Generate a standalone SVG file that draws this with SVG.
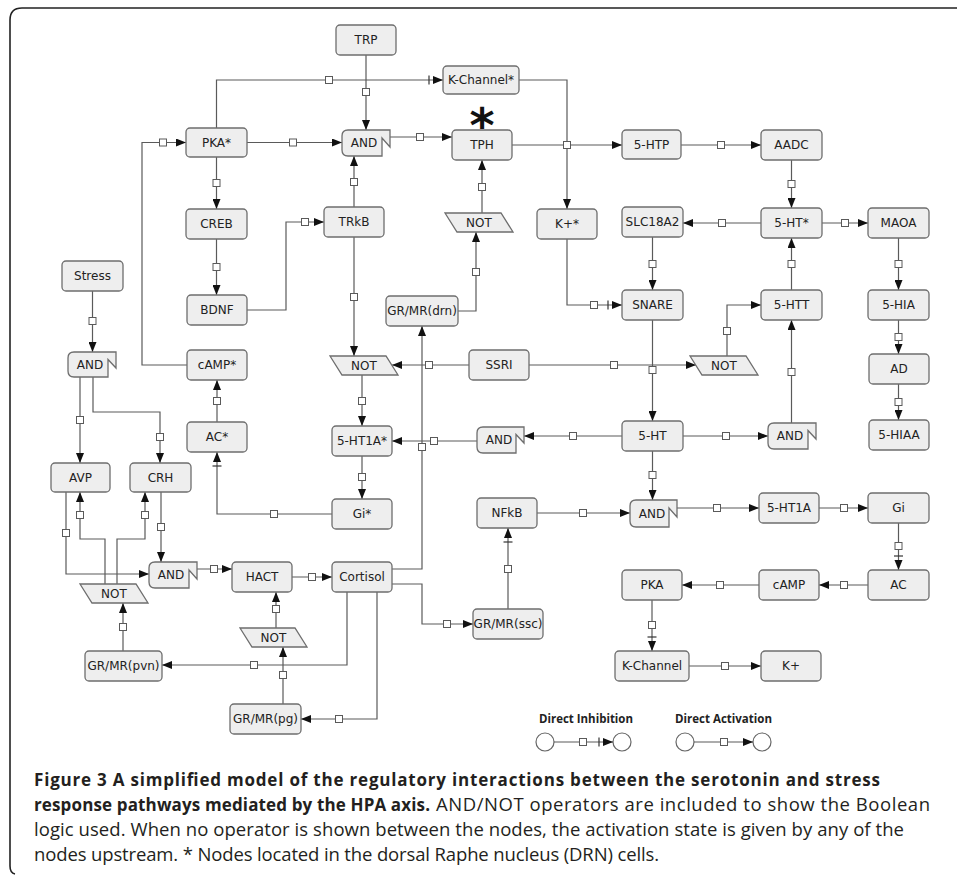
<svg xmlns="http://www.w3.org/2000/svg" width="957" height="875" viewBox="0 0 957 875">
<style>
.n rect,.n path{fill:#eeeeee;stroke:#6e6e6e;stroke-width:1.3}
.n text{font-family:"DejaVu Sans",sans-serif;font-size:12px;fill:#222;text-anchor:middle}
.c path{fill:none;stroke:#5a5a5a;stroke-width:1.2}
.c path.a{marker-end:url(#ah)}
.c path.i{marker-end:url(#ih)}
.sq rect{fill:#fff;stroke:#5a5a5a;stroke-width:1}
.cap{font-family:"Open Sans",sans-serif;font-size:18.5px;fill:#231f20}
.cap .b{font-weight:bold;font-size:17px}
.lg{font-family:"Open Sans",sans-serif;font-size:12px;font-weight:bold;fill:#222}
</style>
<defs>
<marker id="ah" viewBox="0 0 10 8" refX="10" refY="4" markerWidth="10" markerHeight="8" markerUnits="userSpaceOnUse" orient="auto"><path d="M0,0 L10,4 L0,8 Z" fill="#111"/></marker>
<marker id="ih" viewBox="0 0 16 10" refX="16" refY="5" markerWidth="16" markerHeight="10" markerUnits="userSpaceOnUse" orient="auto"><path d="M6,1 L16,5 L6,9 Z" fill="#111"/><path d="M2,0.5 V9.5" stroke="#333" stroke-width="1.2"/></marker>
</defs>
<rect width="957" height="875" fill="#fff"/>
<path d="M960,8 H22 Q10,8 10,20 V866 Q10,873 15,874" fill="none" stroke="#222" stroke-width="1.6"/>

<g id="connectors" class="c">
<path class="i" d="M216.5,128 V80 H443"/>
<path class="a" d="M366,55 V130"/>
<path class="a" d="M247,142.5 H342"/>
<path class="a" d="M390,137 H452"/>
<path class="a" d="M512,145 H622"/>
<path class="a" d="M519,80 H567 V209"/>
<path class="a" d="M354,207 V156"/>
<path class="a" d="M482,213 V160"/>
<path class="a" d="M458,311 H476 V232"/>
<path class="a" d="M216.5,157 V209"/>
<path class="a" d="M216.5,239 V295"/>
<path class="a" d="M247,310 H286 V222 H324"/>
<path class="a" d="M187,365 H142 V142.5 H186"/>
<path class="a" d="M217,422 V380"/>
<path class="i" d="M332,514 H217 V452"/>
<path class="a" d="M92.5,291 V352"/>
<path class="a" d="M80,377 V463"/>
<path class="a" d="M93,377 V412 H160 V463"/>
<path class="a" d="M354,237 V356"/>
<path class="a" d="M469,365 H392"/>
<path class="a" d="M529,365 H696"/>
<path class="a" d="M727,356 V305 H761"/>
<path class="a" d="M791.5,290 V238"/>
<path class="a" d="M791.5,423 V320"/>
<path class="a" d="M683,436 H768"/>
<path class="a" d="M652.5,320 V421"/>
<path class="a" d="M652.5,237 V290"/>
<path class="i" d="M567,239 V305 H622"/>
<path class="a" d="M761,223 H683"/>
<path class="a" d="M822,223 H868"/>
<path class="a" d="M791.5,160 V208"/>
<path class="a" d="M681,145 H761"/>
<path class="a" d="M898.5,238 V290"/>
<path class="a" d="M898.5,320 V354"/>
<path class="a" d="M898.5,384 V420"/>
<path class="a" d="M622,436 H524"/>
<path class="a" d="M477,441 H392"/>
<path class="a" d="M362,375 V426"/>
<path class="a" d="M362,456 V499"/>
<path class="a" d="M392,569 H422 V326"/>
<path class="a" d="M392,584 H422 V624 H473"/>
<path class="i" d="M508,609 V528"/>
<path class="a" d="M537,513 H630"/>
<path class="a" d="M652.5,451 V500"/>
<path class="a" d="M677,508 H759"/>
<path class="a" d="M819,508 H868"/>
<path class="i" d="M898.5,523 V570"/>
<path class="a" d="M868,585 H819"/>
<path class="a" d="M759,585 H682"/>
<path class="i" d="M652,600 V651"/>
<path class="a" d="M689,666 H761"/>
<path class="a" d="M347,592 V665 H162"/>
<path class="a" d="M377,592 V719 H301"/>
<path class="a" d="M283,704 V647"/>
<path class="a" d="M276,628 V592"/>
<path class="a" d="M292,577 H332"/>
<path class="a" d="M197,569 H232"/>
<path class="a" d="M66,492 V574 H149"/>
<path class="a" d="M161,492 V562"/>
<path class="a" d="M105,584 V539 H80 V492"/>
<path class="a" d="M117,584 V539 H145 V492"/>
<path class="a" d="M123,651 V603"/>
<g class="sq">
<rect x="325.5" y="76.5" width="7" height="7"/>
<rect x="362.5" y="88.5" width="7" height="7"/>
<rect x="289.5" y="139" width="7" height="7"/>
<rect x="416.5" y="133.5" width="7" height="7"/>
<rect x="563.5" y="141.5" width="7" height="7"/>
<rect x="350.5" y="178.5" width="7" height="7"/>
<rect x="478.5" y="183.5" width="7" height="7"/>
<rect x="472.5" y="268.5" width="7" height="7"/>
<rect x="213" y="179.5" width="7" height="7"/>
<rect x="213" y="263.5" width="7" height="7"/>
<rect x="301.5" y="218.5" width="7" height="7"/>
<rect x="159.5" y="139" width="7" height="7"/>
<rect x="213.5" y="397.5" width="7" height="7"/>
<rect x="270.5" y="510.5" width="7" height="7"/>
<rect x="89" y="317.5" width="7" height="7"/>
<rect x="76.5" y="416.5" width="7" height="7"/>
<rect x="156.5" y="433.5" width="7" height="7"/>
<rect x="350.5" y="293.5" width="7" height="7"/>
<rect x="425.5" y="361.5" width="7" height="7"/>
<rect x="610.5" y="361.5" width="7" height="7"/>
<rect x="723.5" y="327.5" width="7" height="7"/>
<rect x="788" y="260.5" width="7" height="7"/>
<rect x="788" y="368.5" width="7" height="7"/>
<rect x="722.5" y="432.5" width="7" height="7"/>
<rect x="649" y="366.5" width="7" height="7"/>
<rect x="649" y="260.5" width="7" height="7"/>
<rect x="590.5" y="301.5" width="7" height="7"/>
<rect x="718.5" y="219.5" width="7" height="7"/>
<rect x="841.5" y="219.5" width="7" height="7"/>
<rect x="788" y="180.5" width="7" height="7"/>
<rect x="717.5" y="141.5" width="7" height="7"/>
<rect x="895" y="260.5" width="7" height="7"/>
<rect x="895" y="333.5" width="7" height="7"/>
<rect x="895" y="398.5" width="7" height="7"/>
<rect x="569.5" y="432.5" width="7" height="7"/>
<rect x="430.5" y="437.5" width="7" height="7"/>
<rect x="358.5" y="397.5" width="7" height="7"/>
<rect x="358.5" y="473.5" width="7" height="7"/>
<rect x="418.5" y="443.5" width="7" height="7"/>
<rect x="443.5" y="620.5" width="7" height="7"/>
<rect x="504.5" y="565.5" width="7" height="7"/>
<rect x="579.5" y="509.5" width="7" height="7"/>
<rect x="649" y="471.5" width="7" height="7"/>
<rect x="713.5" y="504.5" width="7" height="7"/>
<rect x="840.5" y="504.5" width="7" height="7"/>
<rect x="895" y="542.5" width="7" height="7"/>
<rect x="840.5" y="581.5" width="7" height="7"/>
<rect x="716.5" y="581.5" width="7" height="7"/>
<rect x="648.5" y="621.5" width="7" height="7"/>
<rect x="721.5" y="662.5" width="7" height="7"/>
<rect x="250.5" y="661.5" width="7" height="7"/>
<rect x="335.5" y="715.5" width="7" height="7"/>
<rect x="279.5" y="671.5" width="7" height="7"/>
<rect x="272.5" y="605.5" width="7" height="7"/>
<rect x="308.5" y="573.5" width="7" height="7"/>
<rect x="210.5" y="565.5" width="7" height="7"/>
<rect x="62.5" y="529.5" width="7" height="7"/>
<rect x="157.5" y="523.5" width="7" height="7"/>
<rect x="76.5" y="511.5" width="7" height="7"/>
<rect x="141.5" y="511.5" width="7" height="7"/>
<rect x="119.5" y="623.5" width="7" height="7"/>
</g>
</g>

<g id="n-trp" class="n"><rect x="336" y="25" width="60" height="30" rx="4"/><text x="366" y="44.3">TRP</text></g>
<g id="n-kchannel-drn" class="n"><rect x="443" y="66" width="76" height="28" rx="4"/><text x="481" y="84.3">K-Channel*</text></g>
<g id="n-pka-drn" class="n"><rect x="186" y="128" width="61" height="29" rx="4"/><text x="216.5" y="146.8">PKA*</text></g>
<g id="n-and-top" class="n"><path d="M348,130 H390 V147 L382,138 V156 H348 Q342,156 342,150 V136 Q342,130 348,130 Z"/><text x="364" y="147.3">AND</text></g>
<g id="n-tph" class="n"><rect x="452" y="130" width="60" height="30" rx="4"/><text x="482" y="149.3">TPH</text></g>
<text id="drn-mark" x="482" y="142" font-family="DejaVu Sans,sans-serif" font-size="48" font-weight="bold" text-anchor="middle" fill="#111">*</text>
<g id="n-5htp" class="n"><rect x="622" y="130" width="59" height="29" rx="4"/><text x="651.5" y="148.8">5-HTP</text></g>
<g id="n-aadc" class="n"><rect x="761" y="130" width="61" height="30" rx="4"/><text x="791.5" y="149.3">AADC</text></g>
<g id="n-creb" class="n"><rect x="186" y="209" width="61" height="30" rx="4"/><text x="216.5" y="228.3">CREB</text></g>
<g id="n-trkb" class="n"><rect x="324" y="207" width="60" height="30" rx="4"/><text x="354" y="226.3">TRkB</text></g>
<g id="n-not-tph" class="n"><path d="M445,213 H501 L513,232 H457 Z"/><text x="479" y="226.8">NOT</text></g>
<g id="n-kplus-drn" class="n"><rect x="537" y="209" width="60" height="30" rx="4"/><text x="567" y="228.3">K+*</text></g>
<g id="n-slc18a2" class="n"><rect x="622" y="207" width="61" height="30" rx="4"/><text x="652.5" y="226.3">SLC18A2</text></g>
<g id="n-5ht-drn" class="n"><rect x="761" y="208" width="61" height="30" rx="4"/><text x="791.5" y="227.3">5-HT*</text></g>
<g id="n-maoa" class="n"><rect x="868" y="208" width="61" height="30" rx="4"/><text x="898.5" y="227.3">MAOA</text></g>
<g id="n-stress" class="n"><rect x="62" y="261" width="61" height="30" rx="4"/><text x="92.5" y="280.3">Stress</text></g>
<g id="n-bdnf" class="n"><rect x="187" y="295" width="60" height="30" rx="4"/><text x="217" y="314.3">BDNF</text></g>
<g id="n-grmr-drn" class="n"><rect x="386" y="296" width="72" height="30" rx="4"/><text x="422" y="315.3">GR/MR(drn)</text></g>
<g id="n-snare" class="n"><rect x="622" y="290" width="61" height="30" rx="4"/><text x="652.5" y="309.3">SNARE</text></g>
<g id="n-5htt" class="n"><rect x="761" y="290" width="61" height="30" rx="4"/><text x="791.5" y="309.3">5-HTT</text></g>
<g id="n-5hia" class="n"><rect x="868" y="290" width="61" height="30" rx="4"/><text x="898.5" y="309.3">5-HIA</text></g>
<g id="n-and-stress" class="n"><path d="M74,352 H116 V368 L108,359.5 V377 H74 Q68,377 68,371 V358 Q68,352 74,352 Z"/><text x="90" y="368.8">AND</text></g>
<g id="n-camp-drn" class="n"><rect x="187" y="350" width="60" height="30" rx="4"/><text x="217" y="369.3">cAMP*</text></g>
<g id="n-not-c" class="n"><path d="M330,356 H386 L398,375 H342 Z"/><text x="364" y="369.8">NOT</text></g>
<g id="n-ssri" class="n"><rect x="469" y="350" width="60" height="30" rx="4"/><text x="499" y="369.3">SSRI</text></g>
<g id="n-not-r" class="n"><path d="M690,356 H746 L758,375 H702 Z"/><text x="724" y="369.8">NOT</text></g>
<g id="n-ad" class="n"><rect x="869" y="354" width="60" height="30" rx="4"/><text x="899" y="373.3">AD</text></g>
<g id="n-ac-drn" class="n"><rect x="187" y="422" width="60" height="30" rx="4"/><text x="217" y="441.3">AC*</text></g>
<g id="n-5ht1a-drn" class="n"><rect x="332" y="426" width="60" height="30" rx="4"/><text x="362" y="445.3">5-HT1A*</text></g>
<g id="n-and-c" class="n"><path d="M483,427 H524 V443 L516,434.5 V453 H483 Q477,453 477,447 V433 Q477,427 483,427 Z"/><text x="499" y="444.3">AND</text></g>
<g id="n-5ht" class="n"><rect x="622" y="421" width="61" height="30" rx="4"/><text x="652.5" y="440.3">5-HT</text></g>
<g id="n-and-r" class="n"><path d="M774,423 H816 V439 L808,430.5 V449 H774 Q768,449 768,443 V429 Q768,423 774,423 Z"/><text x="790" y="440.3">AND</text></g>
<g id="n-5hiaa" class="n"><rect x="869" y="420" width="60" height="30" rx="4"/><text x="899" y="439.3">5-HIAA</text></g>
<g id="n-avp" class="n"><rect x="51" y="463" width="59" height="29" rx="4"/><text x="80.5" y="481.8">AVP</text></g>
<g id="n-crh" class="n"><rect x="130" y="463" width="61" height="29" rx="4"/><text x="160.5" y="481.8">CRH</text></g>
<g id="n-gi-drn" class="n"><rect x="332" y="499" width="60" height="30" rx="4"/><text x="362" y="518.3">Gi*</text></g>
<g id="n-nfkb" class="n"><rect x="477" y="498" width="60" height="30" rx="4"/><text x="507" y="517.3">NFkB</text></g>
<g id="n-and-low" class="n"><path d="M636,500 H677 V517 L669,508 V527 H636 Q630,527 630,521 V506 Q630,500 636,500 Z"/><text x="652" y="517.8">AND</text></g>
<g id="n-5ht1a" class="n"><rect x="759" y="493" width="60" height="30" rx="4"/><text x="789" y="512.3">5-HT1A</text></g>
<g id="n-gi" class="n"><rect x="868" y="493" width="61" height="30" rx="4"/><text x="898.5" y="512.3">Gi</text></g>
<g id="n-and-hpa" class="n"><path d="M155,562 H197 V579 L189,570 V588 H155 Q149,588 149,582 V568 Q149,562 155,562 Z"/><text x="171" y="579.3">AND</text></g>
<g id="n-hact" class="n"><rect x="232" y="562" width="60" height="30" rx="4"/><text x="262" y="581.3">HACT</text></g>
<g id="n-cortisol" class="n"><rect x="332" y="562" width="60" height="30" rx="4"/><text x="362" y="581.3">Cortisol</text></g>
<g id="n-not-pvn" class="n"><path d="M80,584 H136 L148,603 H92 Z"/><text x="114" y="597.8">NOT</text></g>
<g id="n-pka" class="n"><rect x="622" y="570" width="60" height="30" rx="4"/><text x="652" y="589.3">PKA</text></g>
<g id="n-camp" class="n"><rect x="759" y="570" width="60" height="30" rx="4"/><text x="789" y="589.3">cAMP</text></g>
<g id="n-ac" class="n"><rect x="868" y="570" width="61" height="30" rx="4"/><text x="898.5" y="589.3">AC</text></g>
<g id="n-grmr-ssc" class="n"><rect x="473" y="609" width="70" height="30" rx="4"/><text x="508" y="628.3">GR/MR(ssc)</text></g>
<g id="n-not-hact" class="n"><path d="M240,628 H295 L307,647 H252 Z"/><text x="273.5" y="641.8">NOT</text></g>
<g id="n-grmr-pvn" class="n"><rect x="85" y="651" width="77" height="30" rx="4"/><text x="123.5" y="670.3">GR/MR(pvn)</text></g>
<g id="n-kchannel" class="n"><rect x="615" y="651" width="74" height="30" rx="4"/><text x="652" y="670.3">K-Channel</text></g>
<g id="n-kplus" class="n"><rect x="761" y="651" width="60" height="30" rx="4"/><text x="791" y="670.3">K+</text></g>
<g id="n-grmr-pg" class="n"><rect x="230" y="704" width="71" height="30" rx="4"/><text x="265.5" y="723.3">GR/MR(pg)</text></g>

<g id="legend">
<text class="lg" x="539" y="723" textLength="94" lengthAdjust="spacingAndGlyphs">Direct Inhibition</text>
<text class="lg" x="675" y="723" textLength="97" lengthAdjust="spacingAndGlyphs">Direct Activation</text>
<g fill="#fff" stroke="#666" stroke-width="1.2">
<circle cx="545" cy="742" r="9"/><circle cx="622" cy="742" r="9"/>
<circle cx="685" cy="742" r="9"/><circle cx="762" cy="742" r="9"/>
</g>
<g class="c"><path class="i" d="M554,742 H613"/><path class="a" d="M694,742 H753"/></g>
<g class="sq"><rect x="579.5" y="738.5" width="7" height="7"/><rect x="720.5" y="738.5" width="7" height="7"/></g>
</g>

<g id="caption" class="cap">
<text class="b" x="34" y="786" textLength="846">Figure 3 A simplified model of the regulatory interactions between the serotonin and stress</text>
<text x="34" y="811"><tspan class="b" textLength="396">response pathways mediated by the HPA axis.</tspan><tspan x="436" textLength="494">AND/NOT operators are included to show the Boolean</tspan></text>
<text x="34" y="836" textLength="870">logic used. When no operator is shown between the nodes, the activation state is given by any of the</text>
<text x="34" y="861" textLength="625">nodes upstream. * Nodes located in the dorsal Raphe nucleus (DRN) cells.</text>
</g>
</svg>
